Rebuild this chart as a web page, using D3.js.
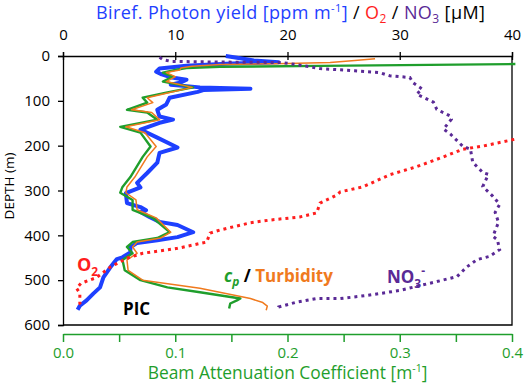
<!DOCTYPE html>
<meta charset="utf-8">
<script src="https://d3js.org/d3.v7.min.js"></script>
<style>
  body { margin: 0; background: #fff; }
  text { font-family: "Open Sans", sans-serif; }
</style>
<div id="chart"></div>
<script>

// profile data (depth in m)
var photonDepth = [0, 4, 10, 14, 17, 22, 28, 35, 41, 48, 53, 59, 64, 70, 73, 76, 80, 93, 108, 120, 135, 142, 149, 164, 182, 204, 216, 238, 261, 283, 293, 306, 328, 337, 344, 348, 359, 370, 377, 393, 404, 411, 417, 427, 438, 449, 453, 472, 494, 516, 530, 545, 557, 566];
var photonYield = [14.5, 15.5, 17, 19.2, 15, 11, 8.6, 8.3, 8.8, 9.7, 11.0, 10.5, 9.6, 12.2, 16.7, 12.5, 12.0, 9.5, 9.2, 8.4, 8.6, 9.8, 8.6, 6.9, 8.4, 10.2, 8.6, 8.4, 7.5, 6.6, 6.9, 5.6, 5.7, 6.9, 7.4, 6.9, 7.7, 8.6, 10.2, 11.6, 10.2, 8.4, 6.6, 6.0, 6.0, 5.3, 4.8, 4.2, 3.6, 3.3, 2.7, 2.1, 1.5, 1.3];

var cpDepth = [18, 22, 24, 27, 30, 37, 46, 57, 70, 81, 93, 104, 120, 126, 142, 158, 171, 202, 225, 270, 292, 305, 321, 343, 361, 393, 406, 415, 426, 440, 455, 478, 500, 516, 527, 541, 545, 552, 563];
var cpValue = [0.403, 0.23, 0.14, 0.11, 0.102, 0.089, 0.098, 0.089, 0.116, 0.093, 0.071, 0.075, 0.057, 0.075, 0.084, 0.051, 0.069, 0.078, 0.071, 0.060, 0.053, 0.051, 0.062, 0.062, 0.080, 0.095, 0.084, 0.062, 0.057, 0.062, 0.053, 0.055, 0.069, 0.093, 0.122, 0.158, 0.155, 0.149, 0.148];

var turbDepth = [6, 10, 14.5, 17, 19, 23, 27, 31, 37, 46, 57, 70, 81, 93, 104, 120, 126, 142, 158, 171, 202, 225, 270, 292, 305, 321, 343, 361, 393, 406, 415, 426, 440, 455, 478, 500, 518, 541, 550, 558, 567];
var turbValue = [0.278, 0.26, 0.238, 0.20, 0.14, 0.115, 0.105, 0.104, 0.092, 0.100, 0.092, 0.115, 0.096, 0.075, 0.080, 0.061, 0.079, 0.086, 0.056, 0.073, 0.083, 0.075, 0.064, 0.057, 0.056, 0.065, 0.066, 0.083, 0.096, 0.087, 0.066, 0.062, 0.066, 0.057, 0.058, 0.071, 0.122, 0.167, 0.178, 0.182, 0.181];

var o2Depth = [186, 201, 208, 225, 247, 265, 292, 303, 310, 328, 350, 359, 366, 372, 388, 395, 415, 429, 440, 451, 471, 494, 507, 518, 529, 552, 561];
var o2Value = [40.2, 37.4, 35.6, 33.9, 31.5, 29.1, 26.7, 24.7, 24.4, 22.9, 22.6, 21.1, 18.4, 16.7, 14.0, 13.1, 12.8, 10.2, 7.1, 5.7, 4.2, 3.0, 1.6, 1.2, 1.5, 1.5, 1.7];

var no3Depth = [3, 8, 12, 13.5, 14.5, 20, 28, 33, 37, 44, 48, 60, 70, 74, 85, 92, 103, 119, 134, 141, 163, 174, 201, 208, 237, 260, 264, 291, 313, 331, 349, 371, 402, 410, 432, 447, 454, 470, 492, 505, 512, 523, 534, 541, 541, 549, 560, 568];
var no3Value = [8.6, 8.9, 9.6, 14, 19.5, 21, 22.9, 26, 28.2, 29.1, 30.9, 31.2, 31.8, 32.0, 31.5, 32.1, 33.0, 33.3, 34.5, 34.6, 33.9, 34.5, 35.6, 36.3, 36.5, 37.4, 37.9, 37.4, 38.3, 38.9, 38.5, 38.8, 38.3, 38.7, 38.9, 38.0, 36.9, 36.0, 35.1, 33.0, 31.8, 30.0, 27.1, 24.7, 22.6, 20.8, 19.2, 19.1];

var depthTicks = [0, 100, 200, 300, 400, 500, 600];
var topTicks = [0, 10, 20, 30, 40];
var beamTicks = [0, 0.05, 0.1, 0.15, 0.2, 0.25, 0.3, 0.35, 0.4];

var blue = "#1e40ff", green = "#1f9e2c", orange = "#f07a1e", red = "#ff1e1e", purple = "#5a2a96";

// set the dimensions and margins of the graph
var margin = {top: 56, right: 14, bottom: 59, left: 63},
    width = 526 - margin.left - margin.right,
    height = 384 - margin.top - margin.bottom;

var svg = d3.select("#chart")
  .append("svg")
    .attr("width", 526)
    .attr("height", 384)
  .append("g")
    .attr("transform", "translate(" + margin.left + "," + margin.top + ")");

var x = d3.scaleLinear().domain([0, 40]).range([0, width]);
var xb = d3.scaleLinear().domain([0, 0.4]).range([0, width]);
var y = d3.scaleLinear().domain([0, 600]).range([0, height]);

// frame: right and bottom sides
svg.append("path")
  .attr("d", "M" + width + ",0V" + height + "H0")
  .attr("fill", "none").attr("stroke", "#000").attr("stroke-width", 1.3);

// left axis (depth)
var yAxis = svg.append("g")
  .call(d3.axisLeft(y).tickValues(depthTicks).tickSize(5).tickPadding(8));
yAxis.selectAll("text").style("font-size", "15px").attr("fill", "#000");
yAxis.selectAll("line, path").attr("stroke", "#000").attr("stroke-width", 1.3);

svg.append("text")
  .attr("transform", "rotate(-90)")
  .attr("x", -y(290))
  .attr("y", -margin.left + 14)
  .style("text-anchor", "middle")
  .style("font-size", "13.5px")
  .text("DEPTH (m)");

// top axis
var xAxis = svg.append("g")
  .call(d3.axisTop(x).tickValues(topTicks).tickSize(4).tickPadding(12));
xAxis.selectAll("line").attr("y1", 4);
xAxis.selectAll("text").style("font-size", "15px").attr("fill", "#000");
xAxis.selectAll("line, path").attr("stroke", "#000").attr("stroke-width", 1.3);

// bottom axis (beam attenuation), in green, offset below the frame
var bAxis = svg.append("g")
  .attr("transform", "translate(0," + (height + 9) + ")")
  .call(d3.axisBottom(xb).tickValues(beamTicks).tickSizeInner(8).tickSizeOuter(0).tickPadding(5)
    .tickFormat(function(d, i) { return i % 2 === 0 ? d3.format(".1f")(d) : ""; }));
bAxis.selectAll("line, path").attr("stroke", green).attr("stroke-width", 1.5);
bAxis.selectAll("text").style("font-size", "15px").attr("fill", green);

var bTitle = svg.append("text")
  .attr("x", width / 2)
  .attr("y", height + 54)
  .style("text-anchor", "middle")
  .style("font-size", "17.4px")
  .attr("fill", green);
bTitle.append("tspan").text("Beam Attenuation Coefficient [m");
bTitle.append("tspan").attr("dy", -7).style("font-size", "10.5px").text("-1");
bTitle.append("tspan").attr("dy", 7).text("]");

// top title
var title = svg.append("text")
  .attr("x", 96 - margin.left)
  .attr("y", 19 - margin.top)
  .style("font-size", "18px")
  .style("letter-spacing", "0.4px");
title.append("tspan").attr("fill", blue).text("Biref. Photon yield [ppm m");
title.append("tspan").attr("fill", blue).attr("dy", -7).style("font-size", "11px").text("-1");
title.append("tspan").attr("fill", blue).attr("dy", 7).text("]");
title.append("tspan").attr("fill", "#000").text("  / ");
title.append("tspan").attr("fill", red).text("O");
title.append("tspan").attr("fill", red).attr("dy", 4).style("font-size", "12px").text("2");
title.append("tspan").attr("fill", "#000").attr("dy", -4).text(" / ");
title.append("tspan").attr("fill", purple).text("NO");
title.append("tspan").attr("fill", purple).attr("dy", 4).style("font-size", "12px").text("3");
title.append("tspan").attr("fill", "#000").attr("dy", -4).text(" [\u03bcM]");

// lines
function profile(depths, values, scale) {
  return d3.line()
    .x(function(d) { return scale(d[1]); })
    .y(function(d) { return y(d[0]); })(d3.zip(depths, values));
}

svg.append("path")
  .attr("d", profile(photonDepth, photonYield, x))
  .attr("fill", "none").attr("stroke", blue).attr("stroke-width", 4)
  .attr("stroke-linejoin", "round");

svg.append("path")
  .attr("d", profile(cpDepth, cpValue, xb))
  .attr("fill", "none").attr("stroke", green).attr("stroke-width", 2.4)
  .attr("stroke-linejoin", "round");

svg.append("path")
  .attr("d", profile(turbDepth, turbValue, xb))
  .attr("fill", "none").attr("stroke", orange).attr("stroke-width", 1.5)
  .attr("stroke-linejoin", "round");

svg.append("path")
  .attr("d", profile(o2Depth, o2Value, x))
  .attr("fill", "none").attr("stroke", red).attr("stroke-width", 3)
  .attr("stroke-dasharray", "3,4");

svg.append("path")
  .attr("d", profile(no3Depth, no3Value, x))
  .attr("fill", "none").attr("stroke", purple).attr("stroke-width", 3)
  .attr("stroke-dasharray", "3,4");

// annotations
var o2Label = svg.append("text").attr("x", 77 - margin.left).attr("y", 271 - margin.top)
  .attr("fill", red).style("font-size", "18px").style("font-weight", "bold");
o2Label.append("tspan").text("O");
o2Label.append("tspan").attr("dy", 5).style("font-size", "12px").text("2");

svg.append("text").attr("x", 123 - margin.left).attr("y", 315 - margin.top)
  .style("font-size", "17px").style("font-weight", "bold").text("PIC");

var cpLabel = svg.append("text").attr("x", 224 - margin.left).attr("y", 282 - margin.top)
  .style("font-size", "17px").style("font-weight", "bold");
cpLabel.append("tspan").attr("fill", green).style("font-style", "italic").text("c");
cpLabel.append("tspan").attr("fill", green).style("font-style", "italic").attr("dy", 4).style("font-size", "12px").text("p");
cpLabel.append("tspan").attr("fill", "#000").attr("dy", -4).text(" / ");
cpLabel.append("tspan").attr("fill", orange).text("Turbidity");

var no3Label = svg.append("text").attr("x", 387 - margin.left).attr("y", 283 - margin.top)
  .attr("fill", purple).style("font-size", "17px").style("font-weight", "bold");
no3Label.append("tspan").text("NO");
no3Label.append("tspan").attr("dy", 5).style("font-size", "12px").text("3");
no3Label.append("tspan").attr("dy", -13).style("font-size", "12px").text("-");

</script>
